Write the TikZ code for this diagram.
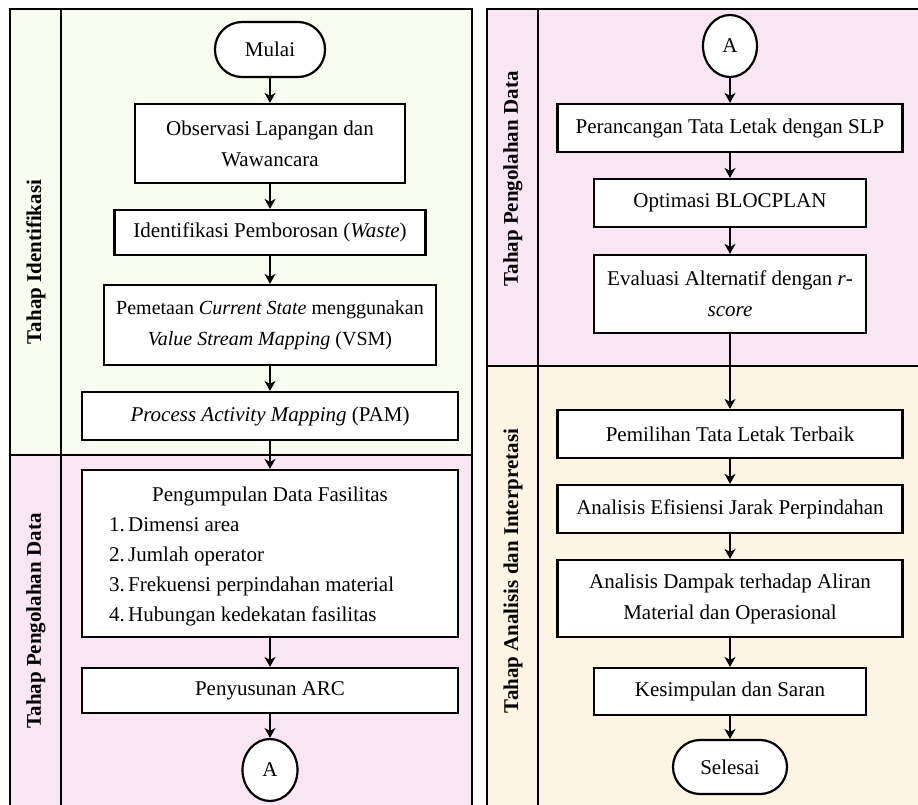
\documentclass[tikz,border=0pt]{standalone}
\usepackage{fontspec}
\setmainfont{Liberation Serif}
\usetikzlibrary{arrows.meta,shapes.geometric}
\definecolor{idgreen}{RGB}{248,252,240}
\definecolor{olpink}{RGB}{249,230,243}
\definecolor{ancream}{RGB}{253,245,228}
\begin{document}
\begin{tikzpicture}[x=1pt,y=-1pt,
  every node/.style={font=\fontsize{21}{31}\selectfont},
  box/.style={draw,line width=2.2pt,fill=white,align=center,inner sep=0pt},
  term/.style={box,rounded corners=27pt},
  conn/.style={draw,ellipse,line width=2.2pt,fill=white,inner sep=0pt},
  panel/.style={draw,line width=2.4pt},
  lane/.style={font=\fontsize{21}{31}\selectfont\bfseries,rotate=90},
  arr/.style={line width=2pt,-{Stealth[length=10pt,width=11pt,inset=3pt]}}]
\useasboundingbox (0,0) rectangle (918,805);
\clip (0,0) rectangle (918,805);
% left panel
\filldraw[panel,fill=idgreen] (10,9) rectangle (472,455);
\filldraw[panel,fill=olpink] (10,455) rectangle (472,820);
\draw[panel] (61,9) -- (61,820);
% right panel
\filldraw[panel,fill=olpink] (487,9) rectangle (930,366);
\filldraw[panel,fill=ancream] (487,366) rectangle (930,820);
\draw[panel] (538,9) -- (538,820);
% lane labels
\node[lane] (l1) at (36,262) {Tahap Identifikasi};
\node[lane] (l2) at (36,621) {Tahap Pengolahan Data};
\node[lane] (l3) at (513,179) {Tahap Pengolahan Data};
\node[lane] (l4) at (513,571) {Tahap Analisis dan Interpretasi};
% left column
\node[term,minimum width=110,minimum height=55] (mulai) at (270,49.5) {Mulai};
\node[box,minimum width=270,minimum height=79] (obs) at (270,143.5) {Observasi Lapangan dan\\Wawancara};
\node[box,minimum width=311,minimum height=45] (iden) at (270,232.5) {Identifikasi Pemborosan (\textit{Waste})};
\node[box,minimum width=332,minimum height=80,font=\fontsize{20}{31}\selectfont] (pem) at (270,325) {Pemetaan \textit{Current State} menggunakan\\\textit{Value Stream Mapping} (VSM)};
\node[box,minimum width=376,minimum height=48] (pam) at (270,416) {\textit{Process Activity Mapping} (PAM)};
\node[box,minimum width=376,minimum height=167] (kum) at (270,553.5) {};
\node[anchor=base] (kumt) at (270,501) {Pengumpulan Data Fasilitas};
\node[anchor=base west,inner sep=0pt] (k1) at (109,531) {\makebox[19pt][l]{1.}Dimensi area};
\node[anchor=base west,inner sep=0pt] (k2) at (109,561) {\makebox[19pt][l]{2.}Jumlah operator};
\node[anchor=base west,inner sep=0pt] (k3) at (109,591) {\makebox[19pt][l]{3.}Frekuensi perpindahan material};
\node[anchor=base west,inner sep=0pt] (k4) at (109,621) {\makebox[19pt][l]{4.}Hubungan kedekatan fasilitas};
\node[box,minimum width=376,minimum height=45] (arc) at (270,690.5) {Penyusunan ARC};
\node[conn,minimum width=55,minimum height=62] (a1) at (270,770) {A};
% right column
\node[conn,minimum width=54,minimum height=62] (a2) at (730,46) {A};
\node[box,minimum width=345,minimum height=48] (per) at (730,128) {Perancangan Tata Letak dengan SLP};
\node[box,minimum width=272,minimum height=48] (opt) at (730,203) {Optimasi BLOCPLAN};
\node[box,minimum width=272,minimum height=78] (eva) at (730,294) {Evaluasi Alternatif dengan \textit{r}-\\\textit{score}};
\node[box,minimum width=345,minimum height=48] (pil) at (730,434) {Pemilihan Tata Letak Terbaik};
\node[box,minimum width=345,minimum height=48] (efi) at (730,509) {Analisis Efisiensi Jarak Perpindahan};
\node[box,minimum width=345,minimum height=77] (dam) at (730,598.5) {Analisis Dampak terhadap Aliran\\Material dan Operasional};
\node[box,minimum width=272,minimum height=47] (kes) at (730,691.5) {Kesimpulan dan Saran};
\node[term,minimum width=114,minimum height=54] (sel) at (730,767) {Selesai};
% arrows
\draw[arr] (mulai) -- (obs);
\draw[arr] (obs) -- (iden);
\draw[arr] (iden) -- (pem);
\draw[arr] (pem) -- (pam);
\draw[arr] (pam) -- (kum);
\draw[arr] (kum) -- (arc);
\draw[arr] (arc) -- (a1);
\draw[arr] (a2) -- (per);
\draw[arr] (per) -- (opt);
\draw[arr] (opt) -- (eva);
\draw[arr] (eva) -- (pil);
\draw[arr] (pil) -- (efi);
\draw[arr] (efi) -- (dam);
\draw[arr] (dam) -- (kes);
\draw[arr] (kes) -- (sel);
\end{tikzpicture}
\end{document}
